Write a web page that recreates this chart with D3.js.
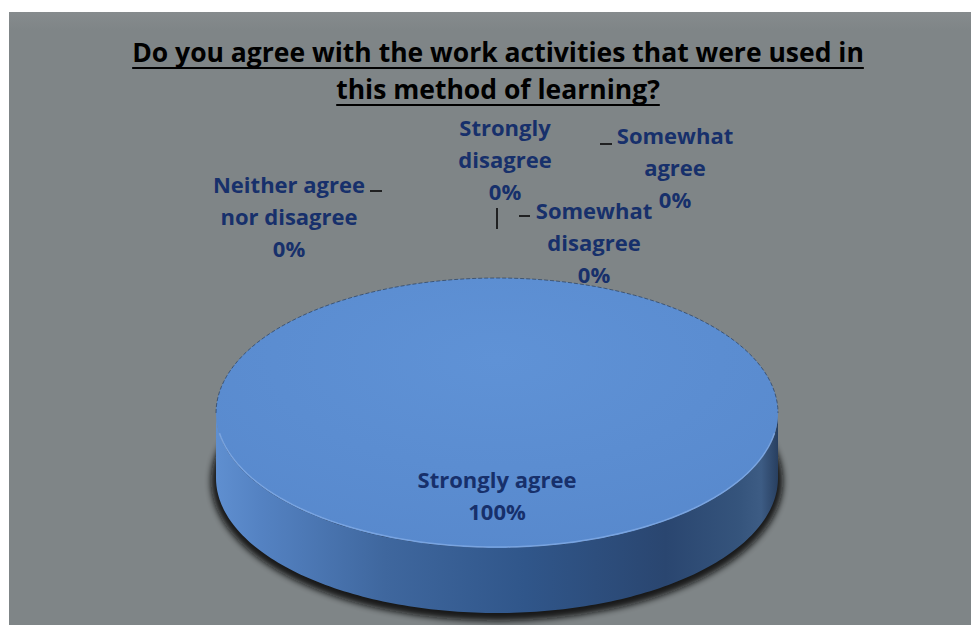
<!DOCTYPE html>
<html><head><meta charset="utf-8">
<script src="https://cdn.jsdelivr.net/npm/d3@7"></script>
<style>body{margin:0;background:#fff}svg{display:block}</style>
</head><body>
<svg id="chart" width="971" height="625"></svg>
<script>
// ---- data ----
const categories = ["Strongly agree","Somewhat agree","Neither agree nor disagree","Somewhat disagree","Strongly disagree"];
const values = [100, 0, 0, 0, 0];
const labelLines = [["Strongly agree"],["Somewhat","agree"],["Neither agree","nor disagree"],["Somewhat","disagree"],["Strongly","disagree"]];
const titleLines = ["Do you agree with the work activities that were used in","this method of learning?"];

// ---- layout ----
const W = 971, H = 625;
const svg = d3.select("#chart");
const font = "'Open Sans', Lato, sans-serif";
const cx = 497, cy = 413, rx = 281, ry = 135, depth = 65;

const defs = svg.append("defs");
const bgGrad = defs.append("linearGradient").attr("id","bg").attr("x1",0).attr("y1",0).attr("x2",0).attr("y2",1);
bgGrad.append("stop").attr("offset",0).attr("stop-color","#868b8d");
bgGrad.append("stop").attr("offset",0.03).attr("stop-color","#7f8587");
bgGrad.append("stop").attr("offset",1).attr("stop-color","#7f8587");

const sideGrad = defs.append("linearGradient").attr("id","side").attr("x1",0).attr("y1",0).attr("x2",1).attr("y2",0);
[[0,"#5f8fd0"],[0.08,"#5482c2"],[0.3,"#3f679e"],[0.55,"#30568a"],[0.8,"#2a4670"],[0.93,"#35547c"],[0.97,"#3d5c84"],[1,"#283f60"]]
  .forEach(([o,c])=>sideGrad.append("stop").attr("offset",o).attr("stop-color",c));

const topGrad = defs.append("radialGradient").attr("id","topface").attr("cx",0.5).attr("cy",0.3).attr("r",0.8);
topGrad.append("stop").attr("offset",0).attr("stop-color","#5f92d6");
topGrad.append("stop").attr("offset",1).attr("stop-color","#5788cc");

const blurF = defs.append("filter").attr("id","blur").attr("x","-10%").attr("y","-10%").attr("width","120%").attr("height","120%");
blurF.append("feGaussianBlur").attr("stdDeviation",3);

// background panel
svg.append("rect").attr("x",9).attr("y",12).attr("width",W-9).attr("height",H-12).attr("fill","url(#bg)");

// ---- title ----
const titleG = svg.append("g");
titleLines.forEach((t,i)=>{
  const tx = titleG.append("text").attr("x",498).attr("y",62+i*37)
    .attr("text-anchor","middle").attr("font-family",font).attr("font-weight","bold")
    .attr("font-size",26.5).attr("fill","#000").text(t);
  const w = tx.node().getComputedTextLength();
  titleG.append("line").attr("x1",498-w/2).attr("x2",498+w/2).attr("y1",68+i*37).attr("y2",68+i*37)
    .attr("stroke","#000").attr("stroke-width",2);
});

// ---- pie ----
const total = d3.sum(values);
const arcs = d3.pie().sort(null)(values);
const px = a => cx + rx*Math.sin(a);
const py = (a, dy=0) => cy - ry*Math.cos(a) + dy;

function sectorPath(a0,a1){
  const n = Math.max(2, Math.ceil((a1-a0)/0.02));
  let p = `M${cx},${cy}`;
  for(let i=0;i<=n;i++){const a=a0+(a1-a0)*i/n; p+=`L${px(a)},${py(a)}`;}
  return p+"Z";
}
function sidePath(a0,a1){
  const s = Math.max(a0, Math.PI/2), e = Math.min(a1, 3*Math.PI/2);
  if(e<=s) return null;
  const n = Math.ceil((e-s)/0.02);
  let p = "";
  for(let i=0;i<=n;i++){const a=s+(e-s)*i/n; p+=(i?"L":"M")+`${px(a)},${py(a)}`;}
  for(let i=n;i>=0;i--){const a=s+(e-s)*i/n; p+=`L${px(a)},${py(a,depth)}`;}
  return p+"Z";
}

// shadow
svg.append("ellipse").attr("cx",cx).attr("cy",cy+depth+3).attr("rx",rx+5).attr("ry",ry+5)
  .attr("fill","#0a0a0a").attr("opacity",0.9).attr("filter","url(#blur)");

const pieG = svg.append("g");
arcs.forEach((d,i)=>{
  const sp = sidePath(d.startAngle,d.endAngle);
  if(sp) pieG.append("path").attr("d",sp).attr("fill","url(#side)");
});
arcs.forEach((d,i)=>{
  if(d.endAngle>d.startAngle)
    pieG.append("path").attr("d",sectorPath(d.startAngle,d.endAngle)).attr("fill","url(#topface)");
});
(function(){
  let p=""; const s=Math.PI*0.55, e=Math.PI*1.45, n=80;
  for(let i=0;i<=n;i++){const a=s+(e-s)*i/n; p+=(i?"L":"M")+`${px(a)},${py(a)-1}`;}
  pieG.append("path").attr("d",p).attr("fill","none").attr("stroke","#8fb6ec").attr("stroke-width",1.5).attr("opacity",0.6);
  let q=""; const s2=-Math.PI*0.5, e2=Math.PI*0.5;
  for(let i=0;i<=n;i++){const a=s2+(e2-s2)*i/n; q+=(i?"L":"M")+`${px(a)},${py(a)}`;}
  pieG.append("path").attr("d",q).attr("fill","none").attr("stroke","#2a3f5c").attr("stroke-width",1).attr("stroke-dasharray","4,2").attr("opacity",0.7);
})();

// ---- labels ----
const labelPos = [
  {x:497, y:479},
  {x:675, y:135},
  {x:289, y:184},
  {x:594, y:210},
  {x:505, y:127}
];
const leaders = [
  null,
  [[600,144],[612,144]],
  [[370,191],[382,191]],
  [[519,216],[530,216]],
  [[497,208],[497,229]]
];
const pct = d3.format(".0%");
const lg = svg.append("g");
arcs.forEach((d,i)=>{
  const lines = labelLines[i].concat([pct(values[i]/total)]);
  const t = lg.append("text").attr("text-anchor","middle").attr("font-family",font)
    .attr("font-weight","bold").attr("font-size",22).attr("fill","#17306b");
  lines.forEach((s,j)=>t.append("tspan").attr("x",labelPos[i].x).attr("y",labelPos[i].y+j*32)
    .attr("dominant-baseline","central").text(s));
  if(leaders[i]) lg.append("path").attr("d",d3.line()(leaders[i])).attr("stroke","#000").attr("stroke-width",1.5);
});
</script>
</body></html>
